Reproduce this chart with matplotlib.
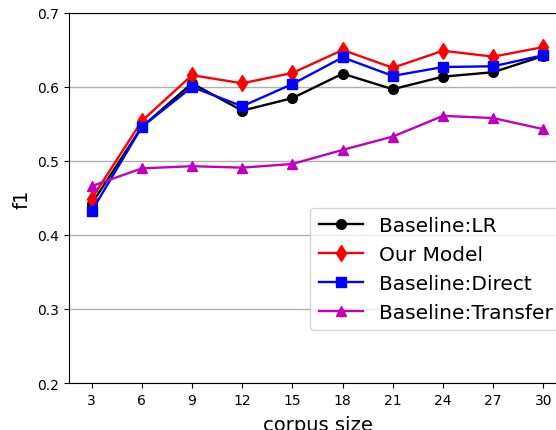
import matplotlib
matplotlib.use("Agg")
import matplotlib.pyplot as plt

corpus_size = [3, 6, 9, 12, 15, 18, 21, 24, 27, 30]
lr       = [0.442, 0.546, 0.605, 0.568, 0.585, 0.618, 0.597, 0.614, 0.620, 0.642]
ours     = [0.449, 0.554, 0.616, 0.605, 0.619, 0.650, 0.626, 0.649, 0.641, 0.654]
direct   = [0.432, 0.546, 0.600, 0.574, 0.604, 0.640, 0.615, 0.627, 0.628, 0.643]
transfer = [0.466, 0.490, 0.493, 0.491, 0.496, 0.515, 0.533, 0.561, 0.558, 0.543]

fig = plt.figure(figsize=(5.56, 4.31), dpi=100)
# axes runs past the right edge, like the cropped original
ax = fig.add_axes([69 / 556, 47 / 431, 497 / 556, 370 / 431])

ax.plot(corpus_size, lr, "k-o", lw=1.7, ms=7, label="Baseline:LR")
ax.plot(corpus_size, ours, "r-d", lw=1.7, ms=8, label="Our Model")
ax.plot(corpus_size, direct, "b-s", lw=1.7, ms=7, label="Baseline:Direct")
ax.plot(corpus_size, transfer, "m-^", lw=1.7, ms=7, label="Baseline:Transfer")

ax.set_ylim(0.2, 0.7)
ax.set_xticks(corpus_size)
ax.yaxis.grid(True, color="#b0b0b0", lw=1)
ax.set_axisbelow(True)
ax.tick_params(labelsize=10)
ax.set_xlabel("corpus size", fontsize=14, labelpad=6)
ax.set_ylabel("f1", fontsize=14)

ax.legend(loc="lower right", bbox_to_anchor=(1.01, 0.115), fontsize=14.5,
          handlelength=2.2)

fig.savefig("out.png", dpi=100)
